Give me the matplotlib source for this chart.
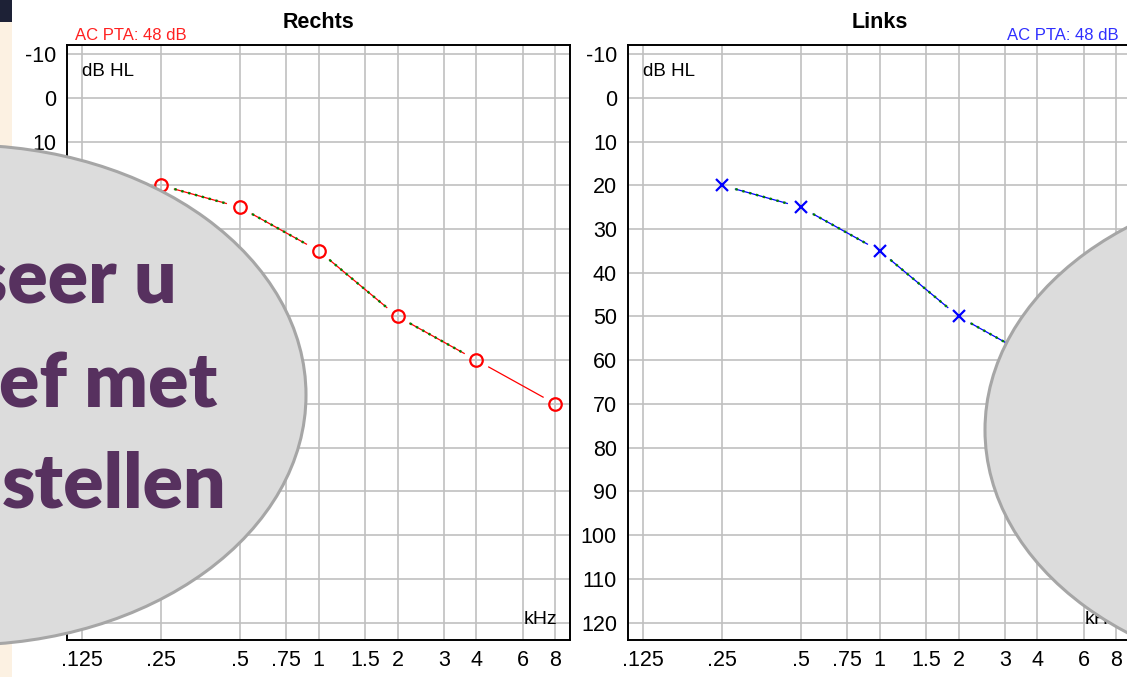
"""
Audiogram slide: right (Rechts) and left (Links) ear thresholds,
with the two grey slide bubbles laid over the charts.
"""

import numpy as np
import matplotlib.pyplot as plt
from matplotlib.patches import Ellipse, Rectangle
from matplotlib.ticker import FixedLocator, FixedFormatter, NullLocator

plt.rcParams["axes.unicode_minus"] = False

# ---- data ----
FREQ_KHZ = [0.25, 0.5, 1, 2, 4, 8]
RIGHT_DB = [20, 25, 35, 50, 60, 70]
LEFT_DB = [20, 25, 35, 50, 60, 70]     # 4 and 8 kHz hidden under the bubble
COMPARE_MAX_KHZ = 4                    # green dotted trace stops at 4 kHz

X_TICKS = [0.125, 0.25, 0.5, 0.75, 1, 1.5, 2, 3, 4, 6, 8]
X_LABELS = [".125", ".25", ".5", ".75", "1", "1.5", "2", "3", "4", "6", "8"]
Y_TICKS = list(range(-10, 121, 10))
PTA_TEXT = "AC PTA: 48 dB"
BUBBLE_LINES = ["seer u", "ef met", "stellen"]

W, H = 1127, 677
NARROW = ["Liberation Sans Narrow", "Liberation Sans", "DejaVu Sans"]
GRID = "#c0c0c0"


def setup_axes(ax, title):
    ax.set_xscale("log")
    ax.set_xlim(0.1095, 9.1)
    ax.set_ylim(124.0, -12.1)
    ax.xaxis.set_major_locator(FixedLocator(X_TICKS))
    ax.xaxis.set_major_formatter(FixedFormatter(X_LABELS))
    ax.xaxis.set_minor_locator(NullLocator())
    ax.set_yticks(Y_TICKS)
    ax.tick_params(length=0, labelsize=15.5)
    ax.tick_params(axis="x", pad=7)
    ax.tick_params(axis="y", pad=8)
    for lab in ax.get_xticklabels() + ax.get_yticklabels():
        lab.set_family(NARROW)
    ax.grid(True, color=GRID, lw=1.2)
    ax.set_axisbelow(True)
    for sp in ax.spines.values():
        sp.set_color("black")
        sp.set_linewidth(1.4)
    ax.set_title(title, fontsize=15.5, fontweight="bold",
                 family=["Liberation Sans", "DejaVu Sans"], pad=12)
    ax.text(0.03, 0.955, "dB HL", transform=ax.transAxes, fontsize=13.5,
            family=NARROW, ha="left", va="center")
    ax.text(0.974, 0.034, "kHz", transform=ax.transAxes, fontsize=14,
            family=NARROW, ha="right", va="center")


def gapped_segments(ax, xs, ys, gap=14):
    """Segments between consecutive points, pulled back `gap` px from each marker."""
    pts = ax.transData.transform(np.column_stack([xs, ys]))
    inv = ax.transData.inverted()
    segs = []
    for p0, p1 in zip(pts[:-1], pts[1:]):
        u = (p1 - p0) / np.hypot(*(p1 - p0))
        segs.append((inv.transform(p0 + u * gap), inv.transform(p1 - u * gap)))
    return segs


def draw_ear(ax, ys, color, marker):
    for (a, b), f_end in zip(gapped_segments(ax, FREQ_KHZ, ys), FREQ_KHZ[1:]):
        xx, yy = [a[0], b[0]], [a[1], b[1]]
        ax.plot(xx, yy, color=color, lw=0.9, zorder=3)
        if f_end <= COMPARE_MAX_KHZ:
            ax.plot(xx, yy, color="#008000", lw=1.7, ls=(0, (1, 2)), zorder=4)
    if marker == "o":
        ax.plot(FREQ_KHZ, ys, "o", mfc="none", mec=color, ms=9, mew=1.6, zorder=5)
    else:
        ax.plot(FREQ_KHZ, ys, "x", color=color, ms=9, mew=1.6, zorder=5)


fig = plt.figure(figsize=(W / 100, H / 100), dpi=100)
fig.patch.set_facecolor("white")

ax_r = fig.add_axes([67 / W, 1 - 640 / H, 503 / W, 595 / H])
ax_l = fig.add_axes([628 / W, 1 - 640 / H, 503 / W, 595 / H])

setup_axes(ax_r, "Rechts")
setup_axes(ax_l, "Links")

draw_ear(ax_r, RIGHT_DB, "#ff0000", "o")
draw_ear(ax_l, LEFT_DB, "#0000ff", "x")

ax_r.text(0.016, 1.0085, PTA_TEXT, transform=ax_r.transAxes, color="#ff2020",
          fontsize=12, family=["Liberation Sans", "DejaVu Sans"],
          ha="left", va="baseline")
ax_l.text(0.976, 1.0085, PTA_TEXT, transform=ax_l.transAxes, color="#2f2fff",
          fontsize=12, family=["Liberation Sans", "DejaVu Sans"],
          ha="right", va="baseline")

# ---- slide overlay (pixel coordinates) ----
ov = fig.add_axes([0, 0, 1, 1], zorder=10)
ov.set_xlim(0, W)
ov.set_ylim(H, 0)
ov.axis("off")
ov.patch.set_alpha(0)

ov.add_patch(Rectangle((0, 0), 12, H, color="#fcf1e2", lw=0))
ov.add_patch(Rectangle((0, 0), 12, 22, color="#1d2136", lw=0))
for cx, cy in [(-37, 395), (1328, 430)]:
    ov.add_patch(Ellipse((cx, cy), 686, 500, fc="#dcdcdc", ec="#a6a6a6", lw=2.2))

for text, xr, base in zip(BUBBLE_LINES, [177, 217, 227], [304, 407, 508]):
    ov.text(xr, base, text, ha="right", va="baseline", fontsize=54,
            family=["Lato", "DejaVu Sans"], fontweight="heavy", color="#57315f")

fig.savefig("out.png", dpi=100)
